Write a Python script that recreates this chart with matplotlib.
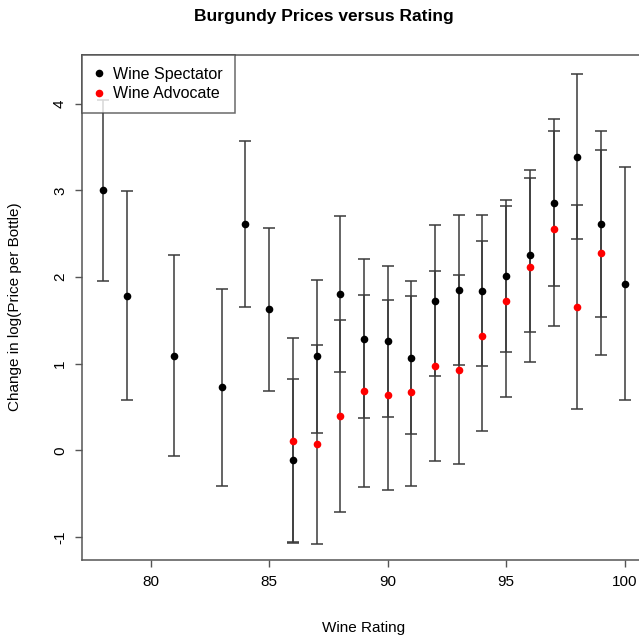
import matplotlib
matplotlib.use("Agg")
import matplotlib.pyplot as plt
from matplotlib.lines import Line2D

plt.rcParams['font.family'] = ['Liberation Sans', 'DejaVu Sans']

# Wine Spectator
ws_rating = [78, 79, 81, 83, 84, 85, 86, 87, 88, 89, 90, 91, 92, 93, 94, 95, 96, 97, 98, 99, 100]
ws_mean = [3.00, 1.78, 1.09, 0.73, 2.61, 1.63, -0.11, 1.09, 1.805, 1.29, 1.26, 1.07, 1.73, 1.855,
           1.845, 2.015, 2.255, 2.86, 3.39, 2.615, 1.925]
ws_upper = [4.04, 2.99, 2.25, 1.86, 3.57, 2.57, 0.82, 1.97, 2.71, 2.21, 2.13, 1.95, 2.60, 2.72,
            2.72, 2.89, 3.14, 3.82, 4.34, 3.69, 3.27]
ws_lower = [1.96, 0.58, -0.06, -0.41, 1.65, 0.69, -1.05, 0.205, 0.91, 0.38, 0.39, 0.19, 0.86, 0.99,
            0.97, 1.14, 1.37, 1.90, 2.44, 1.54, 0.58]

# Wine Advocate
wa_rating = [86, 87, 88, 89, 90, 91, 92, 93, 94, 95, 96, 97, 98, 99]
wa_mean = [0.105, 0.075, 0.395, 0.685, 0.64, 0.68, 0.97, 0.93, 1.32, 1.72, 2.12, 2.56, 1.655, 2.28]
wa_upper = [1.30, 1.22, 1.50, 1.79, 1.74, 1.78, 2.07, 2.02, 2.42, 2.82, 3.23, 3.69, 2.83, 3.47]
wa_lower = [-1.07, -1.08, -0.71, -0.42, -0.46, -0.41, -0.12, -0.16, 0.23, 0.62, 1.02, 1.44, 0.48, 1.10]

x_ticks = [80, 85, 90, 95, 100]
y_ticks = [-1, 0, 1, 2, 3, 4]

W = H = 639
fig = plt.figure(figsize=(W / 100, H / 100), dpi=100)
left, right, top, bottom = 82.3, 645.6, 54.7, 560.0
ax = fig.add_axes([left / W, 1 - bottom / H, (right - left) / W, (bottom - top) / H])

line_col = '#3a3a3a'
for r, m, lo, hi in [(ws_rating, ws_mean, ws_lower, ws_upper),
                     (wa_rating, wa_mean, wa_lower, wa_upper)]:
    yerr = [[mm - l for mm, l in zip(m, lo)], [h - mm for mm, h in zip(m, hi)]]
    ax.errorbar(r, m, yerr=yerr, fmt='none', ecolor=line_col, elinewidth=1.1,
                capsize=4.5, capthick=1.1, zorder=2)
for r, m, c in [(ws_rating, ws_mean, 'black'), (wa_rating, wa_mean, 'red')]:
    ax.plot(r, m, 'o', color=c, markersize=5.5, markeredgewidth=0, zorder=3)

ax.set_xlim(77.12, 100.88)
ax.set_ylim(-1.263, 4.565)
ax.set_xticks(x_ticks)
ax.set_yticks(y_ticks)
ax.set_yticklabels([str(v) for v in y_ticks], rotation=90, va='center')
ax.tick_params(direction='out', length=5, width=1, color='#555555', labelsize=11, pad=6)
for s in ax.spines.values():
    s.set_color('#555555')
    s.set_linewidth(1.1)

fig.text(364 / W, 1 - 628 / H, 'Wine Rating', ha='center', va='center', fontsize=11)
fig.text(15 / W, 1 - 307 / H, 'Change in log(Price per Bottle)', ha='center', va='center',
         rotation=90, fontsize=11)
fig.text(324 / W, 1 - 17 / H, 'Burgundy Prices versus Rating', ha='center', va='center',
         fontsize=12.5, fontweight='bold')

handles = [Line2D([], [], marker='o', linestyle='none', color='black', markersize=5.5, markeredgewidth=0),
           Line2D([], [], marker='o', linestyle='none', color='red', markersize=5.5, markeredgewidth=0)]
leg = ax.legend(handles, ['Wine Spectator', 'Wine Advocate'], loc='upper left',
                bbox_to_anchor=(0, 1), borderaxespad=0, fontsize=11.5, frameon=True,
                fancybox=False, handlelength=0.6, handletextpad=0.6, borderpad=0.75,
                labelspacing=0.3)
leg.get_frame().set_edgecolor('#444444')
leg.get_frame().set_linewidth(1.1)

fig.savefig('out.png', dpi=100)
